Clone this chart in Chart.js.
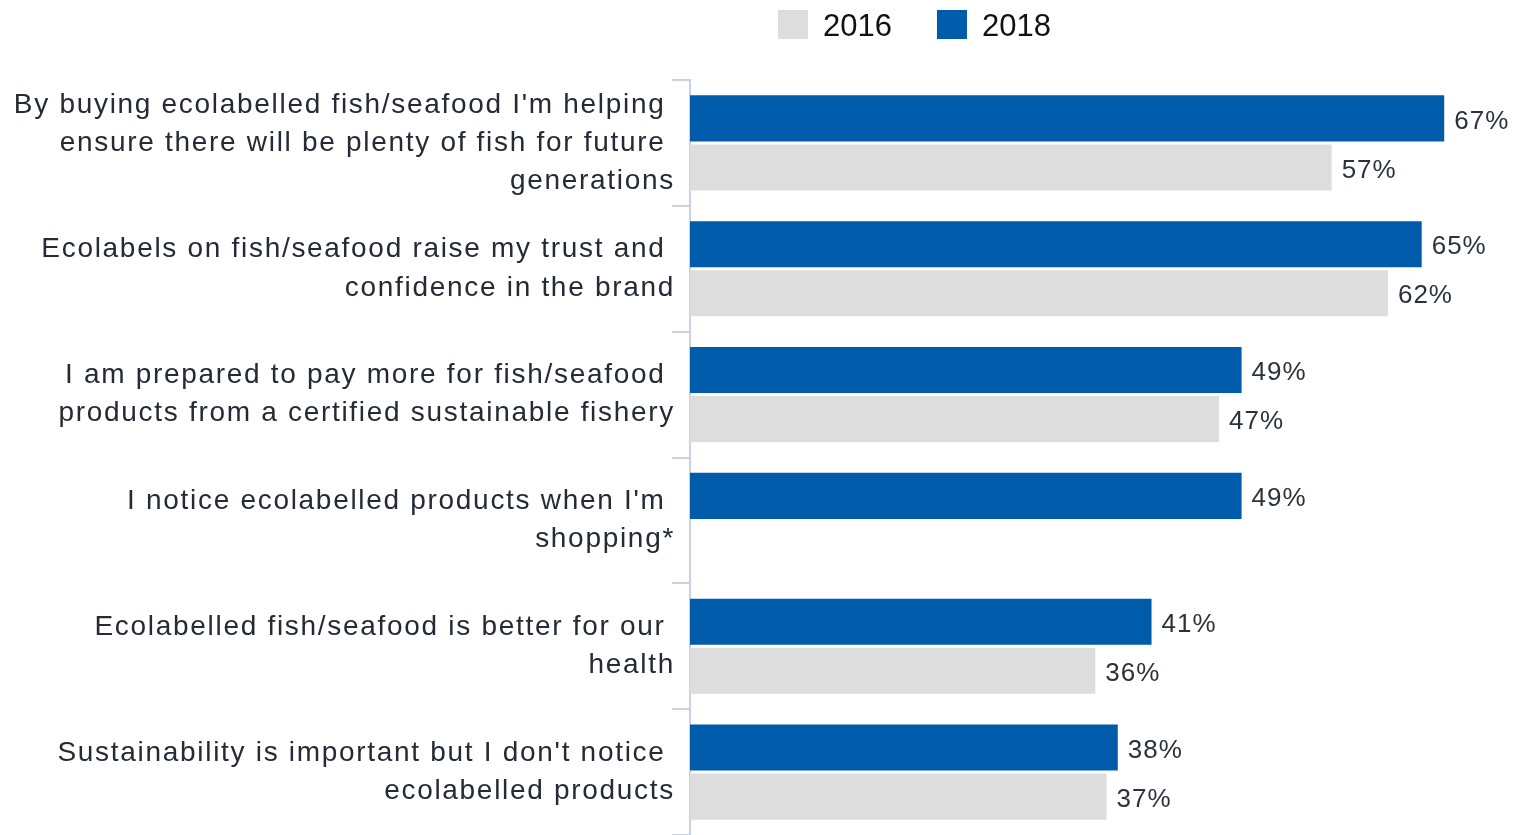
<!DOCTYPE html>
<html>
<head>
<meta charset="utf-8">
<script src="https://cdn.jsdelivr.net/npm/chart.js@4/dist/chart.umd.min.js"></script>
<style>
  html, body { margin: 0; padding: 0; background: #fff; }
  #wrap { width: 1514px; height: 835px; position: relative; }
</style>
</head>
<body>
<div id="wrap"><canvas id="ecolabel-chart"></canvas></div>
<script>
// Statements (multi-line, trailing spaces keep the ragged right edge)
const statements = [
  ["By buying ecolabelled fish/seafood I'm helping ", "ensure there will be plenty of fish for future ", "generations"],
  ["Ecolabels on fish/seafood raise my trust and ", "confidence in the brand"],
  ["I am prepared to pay more for fish/seafood ", "products from a certified sustainable fishery"],
  ["I notice ecolabelled products when I'm ", "shopping*"],
  ["Ecolabelled fish/seafood is better for our ", "health"],
  ["Sustainability is important but I don't notice ", "ecolabelled products"]
];

// Share agreeing, percent
const values2018 = [67, 65, 49, 49, 41, 38];
const values2016 = [57, 62, 47, null, 36, 37];

const blue = '#005baa';
const grey = '#dddddd';
const fontFamily = '"Liberation Sans", Arial, sans-serif';

// Slightly wider tracking for the statement text
const tracking = {
  id: 'tracking',
  beforeDraw(chart) { chart.ctx.letterSpacing = '1.7px'; }
};

// Percent labels at the end of each bar
const valueLabels = {
  id: 'valueLabels',
  afterDatasetsDraw(chart) {
    const ctx = chart.ctx;
    ctx.save();
    ctx.letterSpacing = '1px';
    ctx.font = '26px ' + fontFamily;
    ctx.fillStyle = '#2b323d';
    ctx.textAlign = 'left';
    ctx.textBaseline = 'middle';
    chart.data.datasets.forEach((ds, i) => {
      chart.getDatasetMeta(i).data.forEach((bar, j) => {
        const v = ds.data[j];
        if (v === null || v === undefined) return;
        ctx.fillText(v + '%', bar.x + 10, bar.y + 3);
      });
    });
    ctx.restore();
  }
};

// Legend drawn above the bars, 2016 first
const topLegend = {
  id: 'topLegend',
  afterDraw(chart) {
    const ctx = chart.ctx;
    ctx.save();
    ctx.letterSpacing = '0px';
    ctx.font = '31px ' + fontFamily;
    ctx.textBaseline = 'middle';
    ctx.textAlign = 'left';
    let x = 778;
    const y = 25;
    chart.data.datasets.slice().reverse().forEach(ds => {
      ctx.fillStyle = ds.backgroundColor;
      ctx.fillRect(x, y - 15, 30, 29);
      ctx.fillStyle = '#111';
      ctx.fillText(ds.label, x + 45, y + 2);
      x += 45 + ctx.measureText(ds.label).width + 45;
    });
    ctx.restore();
  }
};

new Chart(document.getElementById('ecolabel-chart'), {
  type: 'bar',
  data: {
    labels: statements,
    datasets: [
      { label: '2018', data: values2018, backgroundColor: blue, borderWidth: 0 },
      { label: '2016', data: values2016, backgroundColor: grey, borderWidth: 0 }
    ]
  },
  options: {
    indexAxis: 'y',
    responsive: true,
    maintainAspectRatio: false,
    animation: false,
    categoryPercentage: 0.78,
    barPercentage: 0.94,
    layout: { padding: { top: 80, right: 0, bottom: 0, left: 0 } },
    plugins: {
      legend: { display: false },
      tooltip: { enabled: false }
    },
    scales: {
      x: {
        display: false,
        min: 0,
        max: 73.2
      },
      y: {
        afterFit(scale) {
          scale.width = 690;
          scale.paddingTop = 0;
          scale.paddingBottom = 0;
        },
        border: { display: true, color: '#c9d3df', width: 2 },
        grid: {
          offset: true,
          drawOnChartArea: false,
          drawTicks: true,
          tickLength: 18,
          color: '#c9d3df',
          lineWidth: 2
        },
        ticks: {
          autoSkip: false,
          padding: -3,
          color: '#242b36',
          font: { family: fontFamily, size: 28, lineHeight: 1.36 }
        }
      }
    }
  },
  plugins: [tracking, valueLabels, topLegend]
});
</script>
</body>
</html>
